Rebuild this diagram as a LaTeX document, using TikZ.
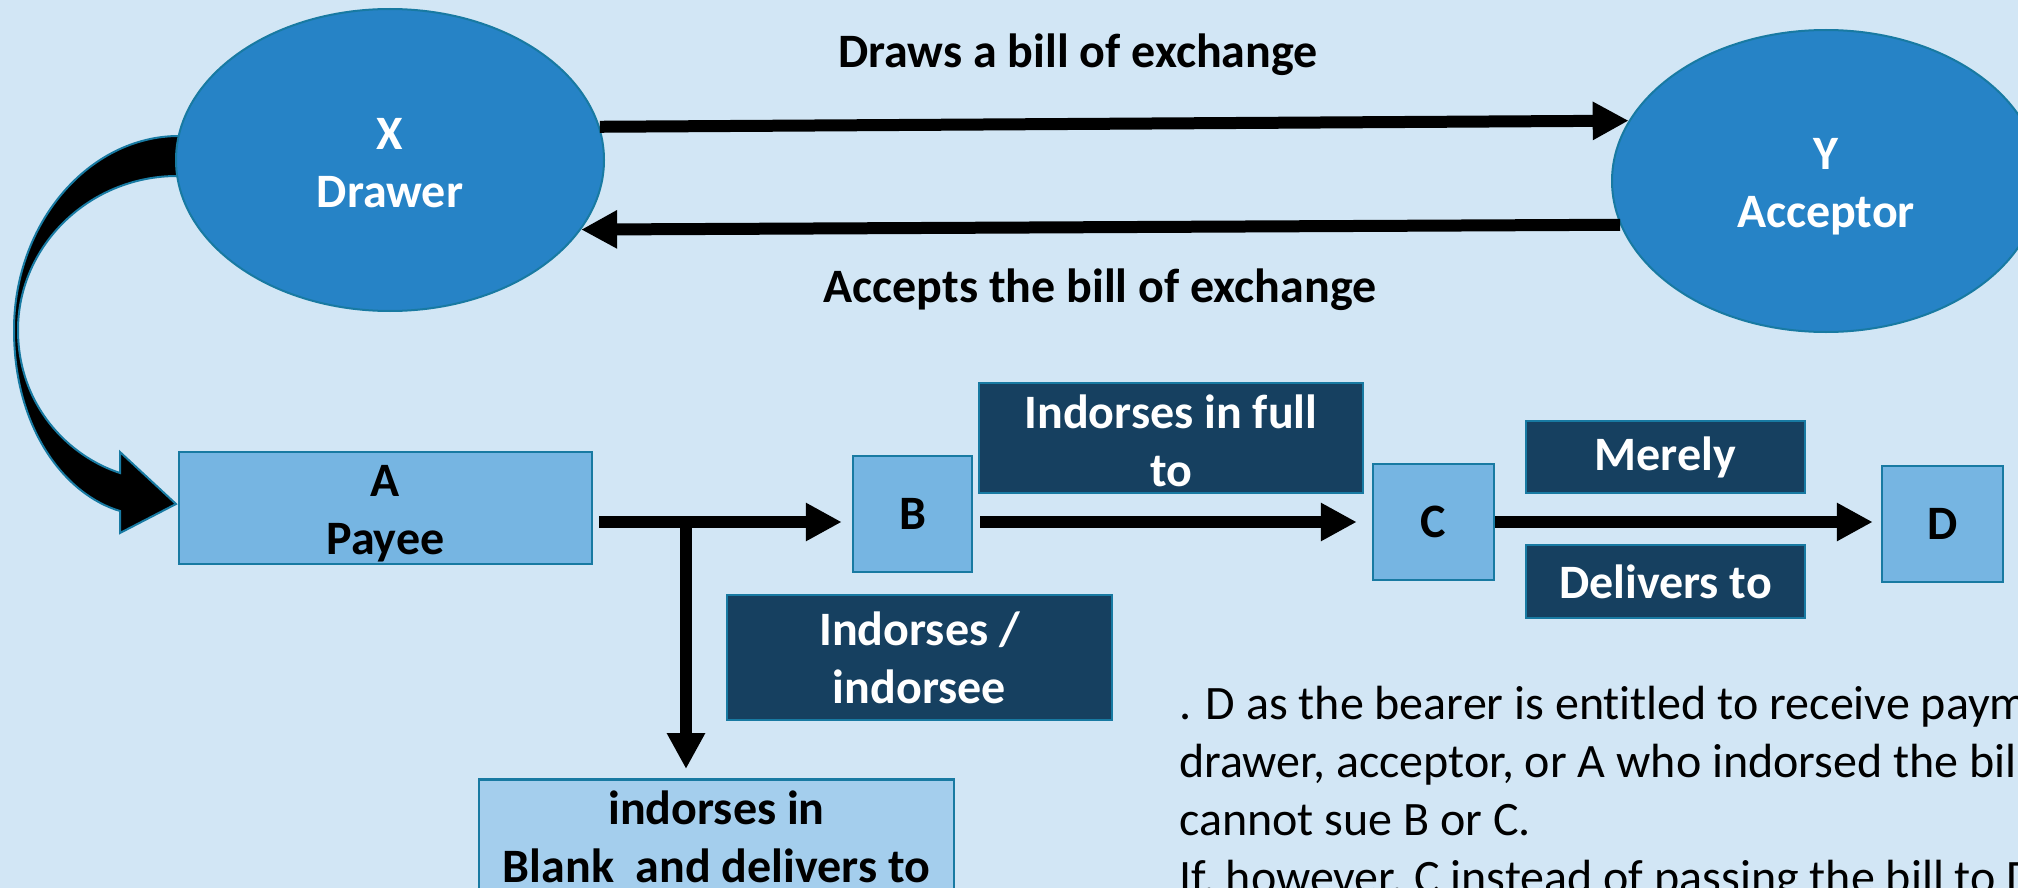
\documentclass[tikz,border=0pt]{standalone}
\usepackage{fontspec}
\setmainfont{Carlito}[Ligatures={NoCommon}]
\usetikzlibrary{arrows.meta,shapes.geometric}
\definecolor{bgc}{RGB}{210,230,245}
\definecolor{ovalc}{RGB}{38,131,198}
\definecolor{edgec}{RGB}{24,122,162}
\definecolor{boxc}{RGB}{118,181,226}
\definecolor{paleboxc}{RGB}{164,206,237}
\definecolor{tagc}{RGB}{22,64,96}
\begin{document}
\begin{tikzpicture}[x=1pt,y=-1pt,
  lbl/.style={font=\bfseries\fontsize{48}{58}\selectfont, align=center, inner sep=0pt},
  oval/.style={ellipse, draw=edgec, line width=2pt, fill=ovalc, inner sep=0pt,
    minimum width=428pt, minimum height=302pt},
  ovaltext/.style={lbl, text=white},
  party/.style={lbl, rectangle, draw=edgec, line width=2.5pt, fill=boxc},
  tagbox/.style={lbl, rectangle, draw=edgec, line width=2.5pt, fill=tagc, text=white},
  flow/.style={line width=12pt, -{Triangle[length=36pt,width=36pt]}},
  note/.style={font=\fontsize{48}{58}\selectfont, anchor=base west, inner sep=0pt}]

% canvas
\useasboundingbox (0,0) rectangle (2018,888);
\fill[bgc] (0,0) rectangle (2018,888);
\clip (0,0) rectangle (2018,888);

% curved arrow from the drawer down to the payee
\filldraw[fill=black, draw=edgec, line width=2pt]
  (205,136) -- (179,136)
  .. controls (89,136) and (14,223) .. (14,330)
  .. controls (14,430) and (66,495) .. (120,511)
  -- (120,533) -- (176,504) -- (120,452) -- (120,473)
  .. controls (68,456) and (18,405) .. (18,330)
  .. controls (18,245) and (90,176) .. (177,176)
  -- (205,176) -- cycle;

% parties
\node[oval] (X) at (390,160) {};
\node[ovaltext] (Xt) at ([yshift=-3pt]X.center) {X\\Drawer};
\node[oval] (Y) at (1826,181) {};
\node[ovaltext] (Yt) at ([yshift=-6pt]Y.center) {Y\\Acceptor};

\node[party, minimum width=413pt, minimum height=112pt] (A) at (385.5,508) {};
\node[lbl] (At) at ([yshift=-6pt]A.center) {A\\Payee};
\node[party, minimum width=119pt, minimum height=116pt] (B) at (912.5,514) {\raisebox{-4pt}{B}};
\node[party, minimum width=121pt, minimum height=116pt] (C) at (1433.5,522) {C};
\node[party, minimum width=121pt, minimum height=116pt] (D) at (1942.5,524) {\raisebox{-3pt}{D}};
\node[party, fill=paleboxc, minimum width=475pt, minimum height=115pt, anchor=north]
  (E) at (716.5,778) {indorses in\\Blank\ \ and delivers to};

% action labels
\node[tagbox, minimum width=384pt, minimum height=110pt] (full) at (1171,438) {};
\node[lbl, text=white] (fullt) at ([yshift=-3pt]full.center) {Indorses in full\\to};
\node[tagbox, minimum width=279pt, minimum height=72pt] (merely) at (1665.5,457) {\raisebox{-4pt}{Merely}};
\node[tagbox, minimum width=279pt, minimum height=73pt] (deliv) at (1665.5,581.5) {Delivers to};
\node[tagbox, minimum width=385pt, minimum height=125pt] (indo) at (919.5,657.5) {Indorses /\\indorsee};

\node[lbl] (draws) at (1078,55) {Draws a bill of exchange};
\node[lbl] (accepts) at (1100,290) {Accepts the bill of exchange};

% flows between the parties
\draw[flow] (X.9.6) -- (Y.163.8);
\draw[flow] (Y.192.4) -- (X.340.4);

\coordinate (j) at (686,522);
\draw[line width=12pt] ([xshift=6pt]A.east |- j) -- (j);
\draw[flow, shorten >=10pt] (j) -- (B.west |- j);
\draw[flow, shorten >=9pt] ([yshift=6pt]j) -- (E.north -| j);
\draw[flow, shorten <=7pt, shorten >=15pt] (B.east |- C) -- (C.west);
\draw[flow, shorten >=8pt] (C.east) -- (D.west |- C.east);

% explanatory note
\node[note] (n1) at (1179,719) {. D as the bearer is entitled to receive payment};
\node[note] (n2) at (1179,777) {drawer, acceptor, or A who indorsed the bill};
\node[note] (n3) at (1179,835) {cannot sue B or C.};
\node[note] (n4) at (1179,893) {If, however, C instead of passing the bill to D};
\end{tikzpicture}
\end{document}
